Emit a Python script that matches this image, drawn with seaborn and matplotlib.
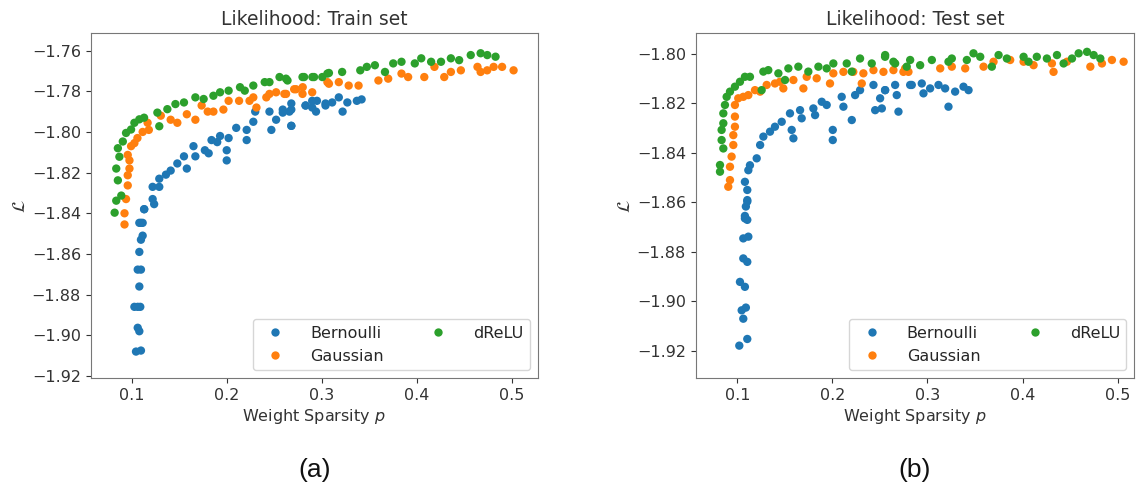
import numpy as np
import pandas as pd
import matplotlib
matplotlib.use('Agg')
import matplotlib.pyplot as plt
import seaborn as sns

#Series names and colours
methods = ['Bernoulli', 'Gaussian', 'dReLU']
colors = ['#1f77b4', '#ff7f0e', '#2ca02c']

#Train set - Bernoulli
train_bern_x = [0.1236, 0.113, 0.1115, 0.108, 0.1115, 0.1097, 0.108, 0.1097, 0.1063, 0.108,
                0.1063, 0.1028, 0.109, 0.1063, 0.108, 0.1045, 0.1097,
                0.1097, 0.1132, 0.122, 0.122, 0.129, 0.129, 0.136, 0.141, 0.148, 0.155,
                0.158, 0.167, 0.165, 0.177, 0.181, 0.184, 0.190, 0.193, 0.200, 0.200,
                0.202, 0.210, 0.221, 0.221, 0.228, 0.230, 0.245, 0.247, 0.252, 0.259,
                0.266, 0.268, 0.268, 0.283, 0.290, 0.295, 0.304,
                0.259, 0.268, 0.268, 0.283, 0.290, 0.294, 0.304, 0.311, 0.318, 0.322,
                0.327, 0.337, 0.342]
train_bern_y = [-1.8355, -1.838, -1.8447, -1.8447, -1.851, -1.853, -1.859, -1.8677, -1.8677, -1.876,
                -1.886, -1.886, -1.886, -1.8963, -1.898, -1.908, -1.9075,
                -1.8447, -1.838, -1.833, -1.827, -1.827, -1.823, -1.821, -1.819, -1.8155, -1.812,
                -1.818, -1.812, -1.807, -1.809, -1.8105, -1.804, -1.805, -1.802, -1.814, -1.809,
                -1.803, -1.798, -1.804, -1.799, -1.795, -1.790, -1.790, -1.799, -1.794, -1.789,
                -1.790, -1.797, -1.786, -1.787, -1.788, -1.7847, -1.786,
                -1.7905, -1.789, -1.797, -1.787, -1.7847, -1.790, -1.787, -1.7855, -1.783, -1.790,
                -1.7855, -1.7847, -1.784]

#Train set - Gaussian
train_gaus_x = [0.0924, 0.0924, 0.094, 0.0958, 0.0958, 0.0976, 0.0976, 0.0958, 0.0993, 0.1028,
                0.106, 0.1115, 0.118, 0.1167, 0.1306, 0.141, 0.148, 0.158, 0.167, 0.1736,
                0.180, 0.186, 0.1965, 0.202, 0.213, 0.224, 0.228, 0.2313, 0.2417, 0.245,
                0.252, 0.2625, 0.273, 0.280, 0.290, 0.306,
                0.2607, 0.271, 0.2798, 0.3076, 0.318, 0.3284, 0.3388, 0.3597, 0.370, 0.384,
                0.391, 0.408, 0.4187, 0.429, 0.436, 0.4465, 0.464, 0.4673, 0.4742, 0.481,
                0.4899, 0.502]
train_gaus_y = [-1.8455, -1.840, -1.833, -1.8263, -1.8213, -1.818, -1.814, -1.8113, -1.807, -1.8055,
                -1.803, -1.800, -1.799, -1.7955, -1.792, -1.794, -1.7955, -1.7913, -1.794, -1.787,
                -1.790, -1.790, -1.789, -1.7847, -1.7847, -1.7847, -1.783, -1.788, -1.783, -1.7813,
                -1.7805, -1.7813, -1.779, -1.778, -1.7805, -1.7755,
                -1.7813, -1.779, -1.7813, -1.7763, -1.7755, -1.7772, -1.7772, -1.7747, -1.7738, -1.7713,
                -1.773, -1.773, -1.768, -1.773, -1.7705, -1.7697, -1.768, -1.7705, -1.7697, -1.768,
                -1.768, -1.7697]

#Train set - dReLU
train_drelu_x = [0.082, 0.0837, 0.089, 0.0854, 0.0837, 0.087, 0.0854, 0.0906, 0.094, 0.0993,
                 0.1028, 0.108, 0.113, 0.127, 0.129, 0.1375, 0.146, 0.155, 0.167, 0.1757,
                 0.186, 0.193, 0.202, 0.214, 0.219, 0.228, 0.240, 0.245, 0.2556, 0.264,
                 0.2798, 0.292, 0.306,
                 0.2624, 0.2815, 0.2902, 0.3006, 0.3076, 0.3215, 0.3406, 0.3475, 0.356, 0.3666,
                 0.3753, 0.384, 0.398, 0.4048, 0.4152, 0.4256, 0.436, 0.4447, 0.4569, 0.4673,
                 0.4743, 0.483]
train_drelu_y = [-1.8397, -1.8338, -1.8313, -1.8238, -1.818, -1.8122, -1.808, -1.8047, -1.8005, -1.7988,
                 -1.7955, -1.7938, -1.793, -1.7905, -1.7972, -1.7888, -1.7863, -1.7855, -1.783, -1.7838,
                 -1.7822, -1.7805, -1.7797, -1.778, -1.7797, -1.7772, -1.7755, -1.7755, -1.773, -1.7747,
                 -1.773, -1.773, -1.7713,
                 -1.7738, -1.773, -1.773, -1.773, -1.771, -1.7705, -1.7697, -1.768, -1.7672, -1.7705,
                 -1.7663, -1.7655, -1.7663, -1.7638, -1.7655, -1.7655, -1.7638, -1.7647, -1.7622, -1.7613,
                 -1.7622, -1.763]

#Test set - Bernoulli
test_bern_x = [0.1105, 0.109, 0.108, 0.1105, 0.1063, 0.1116, 0.1063, 0.1105, 0.1028, 0.108,
               0.1046, 0.109, 0.1063, 0.1021, 0.1105,
               0.108, 0.1105, 0.1105, 0.108, 0.1116, 0.1133, 0.1204, 0.124, 0.1274, 0.1344,
               0.1396, 0.1467, 0.1572, 0.159, 0.1554, 0.166, 0.1677, 0.180, 0.1888, 0.1818,
               0.194, 0.2004, 0.2004, 0.2098, 0.2116, 0.2204, 0.2239, 0.2291, 0.2432, 0.245,
               0.2502, 0.2554, 0.266, 0.2677, 0.2695, 0.2818,
               0.2555, 0.252, 0.2835, 0.294, 0.2958, 0.3028, 0.3116, 0.3186, 0.3221, 0.3291,
               0.3379, 0.3432]
test_bern_y = [-1.8597, -1.8617, -1.8655, -1.8671, -1.8746, -1.8739, -1.8827, -1.8841, -1.8922, -1.8942,
               -1.9037, -1.9026, -1.9071, -1.918, -1.9153,
               -1.8665, -1.8591, -1.855, -1.8517, -1.847, -1.845, -1.8422, -1.8368, -1.8334, -1.8314,
               -1.8294, -1.8274, -1.8307, -1.8341, -1.824, -1.8227, -1.826, -1.822, -1.8193, -1.8247,
               -1.8206, -1.8307, -1.8348, -1.8173, -1.8213, -1.8267, -1.8166, -1.8146, -1.8125, -1.8227,
               -1.8179, -1.8146, -1.8125, -1.8166, -1.8233, -1.8125,
               -1.8146, -1.822, -1.8125, -1.8119, -1.8159, -1.8139, -1.8125, -1.8139, -1.8213, -1.8152,
               -1.8132, -1.8146]

#Test set - Gaussian
test_gaus_x = [0.0905, 0.0923, 0.0923, 0.094, 0.0958, 0.0958, 0.0975, 0.0975, 0.0975, 0.101,
               0.1063, 0.1116, 0.1186, 0.124, 0.1309, 0.1396, 0.1484, 0.1449, 0.159, 0.1695,
               0.173, 0.1835, 0.1975, 0.201, 0.2116, 0.222, 0.2309, 0.2326, 0.2432, 0.2537,
               0.2642, 0.2747,
               0.2765, 0.280, 0.3134, 0.3256, 0.3397, 0.359, 0.3695, 0.387, 0.4011, 0.4116,
               0.4326, 0.4309, 0.4467, 0.4713, 0.4835, 0.494, 0.5063]
test_gaus_y = [-1.8537, -1.851, -1.8456, -1.8415, -1.8368, -1.8328, -1.8294, -1.8253, -1.8206, -1.8179,
               -1.8173, -1.8166, -1.8146, -1.8152, -1.8125, -1.8119, -1.8139, -1.8112, -1.8105, -1.8139,
               -1.8092, -1.8098, -1.8119, -1.8078, -1.8072, -1.8072, -1.8119, -1.8078, -1.8065, -1.8072,
               -1.8065, -1.8072,
               -1.8058, -1.8072, -1.8058, -1.8051, -1.8058, -1.8051, -1.8031, -1.8024, -1.8031, -1.8045,
               -1.8072, -1.8038, -1.8031, -1.8051, -1.8038, -1.8024, -1.8031]

#Test set - dReLU
test_drelu_x = [0.0818, 0.0818, 0.0853, 0.0835, 0.0835, 0.0853, 0.0853, 0.087, 0.0888, 0.0923,
                0.0975, 0.1028, 0.108, 0.1133, 0.1256, 0.1274, 0.1326, 0.1432, 0.1502, 0.1537,
                0.1642, 0.1747, 0.1853, 0.194, 0.201, 0.2151, 0.2204, 0.2291, 0.2414, 0.2554,
                0.266, 0.2782,
                0.2555, 0.2642, 0.2818, 0.2923, 0.3046, 0.3221, 0.3256, 0.3414, 0.3484, 0.3555,
                0.3677, 0.3748, 0.3835, 0.4011, 0.4063, 0.415, 0.4256, 0.4362, 0.4432, 0.452,
                0.459, 0.4678, 0.4748, 0.4818]
test_drelu_y = [-1.8476, -1.8449, -1.8382, -1.8348, -1.8307, -1.828, -1.824, -1.8206, -1.8173, -1.8152,
                -1.8132, -1.8112, -1.8092, -1.8092, -1.8146, -1.8071, -1.8065, -1.8078, -1.8105, -1.8058,
                -1.8051, -1.8071, -1.8051, -1.8058, -1.8038, -1.8038, -1.8071, -1.8018, -1.8038, -1.8011,
                -1.8038, -1.8051,
                -1.8004, -1.8031, -1.8024, -1.8045, -1.8024, -1.8031, -1.8018, -1.8024, -1.7997, -1.8011,
                -1.8051, -1.8004, -1.8018, -1.8011, -1.8031, -1.8011, -1.8018, -1.8004, -1.8038, -1.8018,
                -1.7997, -1.7991, -1.8004, -1.8018]

#Build long dataframes for seaborn
def make_df(xs, ys):
    parts = []
    for name, x, y in zip(methods, xs, ys):
        parts.append(pd.DataFrame({'p': x, 'L': y, 'method': name}))
    return pd.concat(parts, ignore_index=True)

train = make_df([train_bern_x, train_gaus_x, train_drelu_x], [train_bern_y, train_gaus_y, train_drelu_y])
test = make_df([test_bern_x, test_gaus_x, test_drelu_x], [test_bern_y, test_gaus_y, test_drelu_y])

sns.set_style('ticks')
plt.rcParams['font.family'] = ['DejaVu Sans']
plt.rcParams['mathtext.fontset'] = 'dejavusans'

fig = plt.figure(figsize=(11.38, 4.87), dpi=100)
ax1 = fig.add_axes([0.0797, 0.2238, 0.3928, 0.7078])
ax2 = fig.add_axes([0.6113, 0.2238, 0.3855, 0.7078])

panels = [(ax1, train, 'Likelihood: Train set', (0.0568, 0.5274), (-1.921, -1.7515), '(a)'),
          (ax2, test, 'Likelihood: Test set', (0.0562, 0.5176), (-1.9311, -1.7916), '(b)')]

for ax, df, title, xlim, ylim, tag in panels:
    sns.scatterplot(data=df, x='p', y='L', hue='method', hue_order=methods,
                    palette=colors, s=36, linewidth=0, alpha=1, ax=ax)
    ax.set_xlim(xlim)
    ax.set_ylim(ylim)
    ax.set_xticks([0.1, 0.2, 0.3, 0.4, 0.5])
    ax.set_title(title, fontsize=13.5, color='#333333')
    ax.set_xlabel('Weight Sparsity $p$', fontsize=11.5, color='#333333', labelpad=3)
    ax.set_ylabel(r'$\mathcal{L}$', fontsize=13, color='#333333', labelpad=2)
    ax.tick_params(labelsize=11.5, colors='#333333')
    for sp in ax.spines.values():
        sp.set_color('#777777')
    ax.legend(loc='lower right', ncol=2, fontsize=11.5, markerscale=1.0, columnspacing=2.4,
              handletextpad=1.2, title=None)
    pos = ax.get_position()
    fig.text(pos.x0 + pos.width / 2, 0.035, tag, ha='center', va='center',
             fontsize=19, family='Liberation Sans', color='#111111')

plt.savefig('out.png', dpi=100)
